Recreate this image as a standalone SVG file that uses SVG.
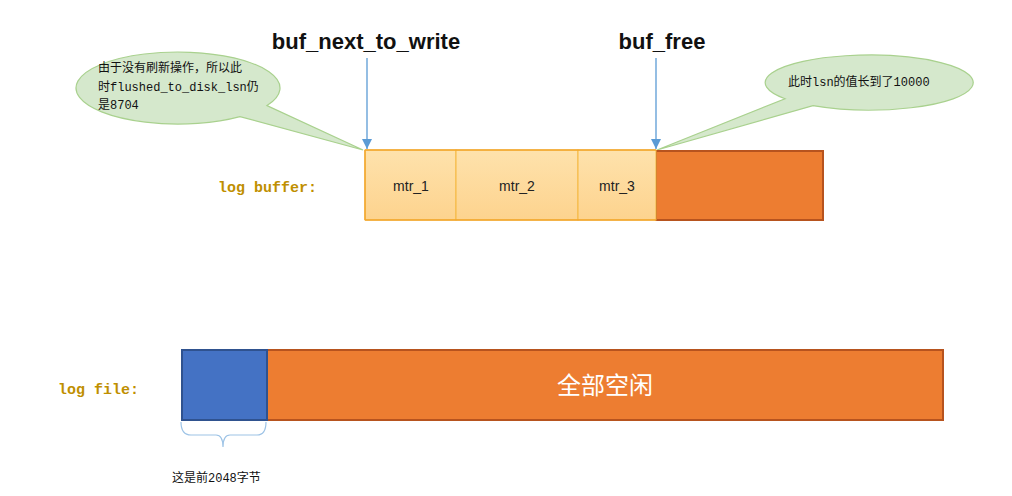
<svg xmlns="http://www.w3.org/2000/svg" width="1012" height="496" viewBox="0 0 1012 496">
<defs>
<linearGradient id="mtrGrad" x1="0" y1="0" x2="0" y2="1">
<stop offset="0" stop-color="#FEE2AC"/>
<stop offset="1" stop-color="#FDD38E"/>
</linearGradient>
<marker id="arrow" viewBox="0 0 10 10" refX="10" refY="5" markerWidth="10" markerHeight="10" markerUnits="userSpaceOnUse" orient="auto">
<path d="M0,0 L10,5 L0,10 Z" fill="#5B9BD5"/>
</marker>
</defs>
<style>
.lbl{font-family:"Liberation Mono","Noto Sans CJK SC",monospace;font-size:15px;fill:#BF8F00;font-weight:bold}
.ptr{font-family:"Liberation Sans","Noto Sans CJK SC",sans-serif;font-size:22px;fill:#111;text-anchor:middle;font-weight:bold}
.mtr{font-family:"Liberation Sans","Noto Sans CJK SC",sans-serif;font-size:14px;fill:#222;text-anchor:middle}
.note{font-family:"Liberation Mono","Noto Sans CJK SC",monospace;font-size:12px;fill:#111}
.callout{fill:#D5E8CC;stroke:#A9D18E;stroke-width:1.2}
.mtrbox{fill:url(#mtrGrad);stroke:#F5B841;stroke-width:1}
.free{fill:#ED7D31;stroke:#B7531E;stroke-width:2}
.used{fill:#4472C4;stroke:#2F528F;stroke-width:2}
.conn{stroke:#5B9BD5;stroke-width:1.3;fill:none}
</style>
<rect width="1012" height="496" fill="#FFFFFF"/>

<g id="label-log-buffer"><text class="lbl" x="218" y="192">log buffer:</text></g>
<g id="label-log-file"><text class="lbl" x="58" y="394">log file:</text></g>

<g id="ptr-buf-next-to-write"><text class="ptr" x="366" y="49">buf_next_to_write</text></g>
<g id="ptr-buf-free"><text class="ptr" x="662" y="49">buf_free</text></g>

<g id="callout-left">
<path class="callout" d="M240,116.6 A102,36 0 1 1 267,105.6 L363,150 Z"/>
<text class="note" x="98" y="72">由于没有刷新操作，所以此</text>
<text class="note" x="98" y="91">时flushed_to_disk_lsn仍</text>
<text class="note" x="98" y="109">是8704</text>
</g>

<g id="callout-right">
<path class="callout" d="M785,98.7 A104,27.5 0 1 1 813,105.7 L657,150 Z"/>
<text class="note" x="788" y="86">此时lsn的值长到了10000</text>
</g>

<g id="log-buffer">
<rect class="free" x="656" y="151" width="167" height="69"/>
<rect class="mtrbox" x="365" y="150" width="91" height="70"/>
<rect class="mtrbox" x="456" y="150" width="122" height="70"/>
<rect class="mtrbox" x="578" y="150" width="78" height="70"/>
<path d="M365,150 H656 M365,220 H656 M365,150 V220" stroke="#F2A72E" stroke-width="1.5" fill="none"/>
<text class="mtr" x="411" y="191">mtr_1</text>
<text class="mtr" x="517" y="191">mtr_2</text>
<text class="mtr" x="617" y="191">mtr_3</text>
</g>

<g id="log-file">
<rect class="free" x="267" y="350" width="676" height="70"/>
<rect class="used" x="182" y="350" width="85" height="70"/>
<text x="605" y="394" font-family="'Noto Sans CJK SC',sans-serif" font-size="24" fill="#FFFFFF" text-anchor="middle">全部空闲</text>
</g>

<g id="brace">
<path d="M181,422 Q181,435 191,435 L216,435 Q223,435 223,447 Q223,435 230,435 L257,435 Q266,435 266,422" stroke="#9DC3E6" stroke-width="1.2" fill="none"/>
<text class="note" x="172" y="482">这是前2048字节</text>
</g>

<g id="connectors">
<line class="conn" x1="367" y1="58" x2="367" y2="149" marker-end="url(#arrow)"/>
<line class="conn" x1="656" y1="58" x2="656" y2="149" marker-end="url(#arrow)"/>
</g>
</svg>
